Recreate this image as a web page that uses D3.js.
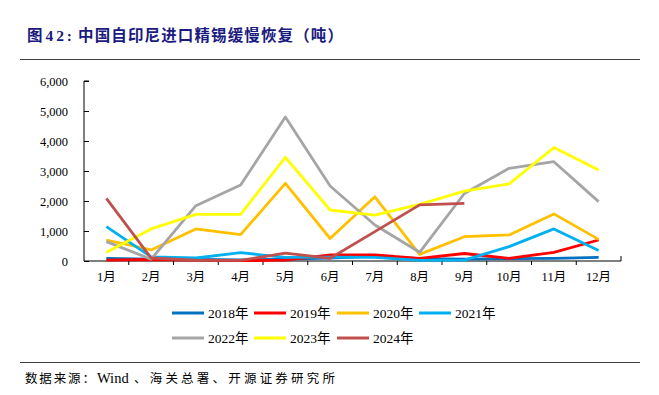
<!DOCTYPE html>
<html><head><meta charset="utf-8">
<script src="https://cdn.jsdelivr.net/npm/d3@7"></script>
<style>body{margin:0;background:#fff}</style>
</head><body>
<svg id="c" width="659" height="395"></svg>
<script>
const months = ["1月","2月","3月","4月","5月","6月","7月","8月","9月","10月","11月","12月"];
const yTicks = [0,1000,2000,3000,4000,5000,6000];
const seriesNames = ["2018年","2019年","2020年","2021年","2022年","2023年","2024年"];
const seriesColors = ["#0070C0","#FF0000","#FFC000","#00B0F0","#A5A5A5","#FFFF00","#C0504D"];
const v2018 = [90,60,50,40,60,100,160,80,60,80,90,120];
const v2019 = [30,50,30,10,30,200,200,90,250,90,290,700];
const v2020 = [700,370,1070,880,2590,750,2140,220,810,870,1570,720];
const v2021 = [1145,140,100,280,120,130,120,20,30,480,1070,350];
const v2022 = [645,60,1845,2530,4800,2500,1200,290,2250,3090,3310,1980];
const v2023 = [290,1070,1555,1555,3455,1700,1530,1890,2330,2570,3780,3030];
const v2024 = [2090,100,30,20,260,90,980,1870,1920];
const seriesValues = [v2018,v2019,v2020,v2021,v2022,v2023,v2024];

const svg = d3.select("#c");
const serif = "'Liberation Serif','Times New Roman','Noto Sans CJK SC',serif";

// title
svg.append("text").attr("x",27).attr("y",41).attr("fill","#1a1a80")
  .attr("font-family",serif).attr("font-size",15.5).attr("font-weight","bold")
  .attr("textLength",45).attr("lengthAdjust","spacing").text("图42:");
svg.append("text").attr("x",78).attr("y",41).attr("fill","#1a1a80")
  .attr("font-family",serif).attr("font-size",15.5).attr("font-weight","bold")
  .attr("textLength",265).attr("lengthAdjust","spacing").text("中国自印尼进口精锡缓慢恢复（吨）");
svg.append("line").attr("x1",20).attr("x2",640).attr("y1",59.5).attr("y2",59.5)
  .attr("stroke","#404040").attr("stroke-width",1.2);

const x = d3.scaleBand().domain(months).range([84,621]).padding(0);
const y = d3.scaleLinear().domain([0,6000]).range([261,81]);

// y axis
const ya = svg.append("g").attr("transform","translate(84,0)")
  .call(d3.axisLeft(y).tickValues(yTicks).tickSize(-5).tickPadding(16).tickFormat(d3.format(",")));
ya.select(".domain").attr("stroke","#000").attr("d","M5,81H0V261");
ya.selectAll("line").attr("stroke","#000");
ya.selectAll("text").attr("font-family",serif).attr("font-size",12.5).attr("fill","#000");

// x axis
const xa = svg.append("g").attr("transform","translate(0,261)");
xa.append("line").attr("x1",84).attr("x2",621).attr("stroke","#000");
xa.selectAll("line.t").data(d3.range(1,13)).enter().append("line")
  .attr("x1",i=>84+i*x.bandwidth()).attr("x2",i=>84+i*x.bandwidth())
  .attr("y1",i=>i===12?-5:0).attr("y2",i=>i===12?0:4).attr("stroke","#000");
xa.selectAll("text").data(months).enter().append("text")
  .attr("x",d=>x(d)+x.bandwidth()/2).attr("y",20).attr("text-anchor","middle")
  .attr("font-family",serif).attr("font-size",12.5).attr("fill","#000").text(d=>d);

// lines
const line = d3.line().x((d,i)=>x(months[i])+x.bandwidth()/2).y(d=>y(d));
seriesValues.forEach((vals,k)=>{
  svg.append("path").datum(vals).attr("d",line).attr("fill","none")
    .attr("stroke",seriesColors[k]).attr("stroke-width",2.8).attr("stroke-linejoin","round");
});

// legend
const legPos = [[172,313],[254,313],[337,313],[419,313],[172,338],[254,338],[337,338]];
seriesNames.forEach((n,k)=>{
  const [lx,ly]=legPos[k];
  svg.append("line").attr("x1",lx).attr("x2",lx+32).attr("y1",ly).attr("y2",ly)
    .attr("stroke",seriesColors[k]).attr("stroke-width",3);
  svg.append("text").attr("x",lx+36).attr("y",ly+5).attr("font-family",serif)
    .attr("font-size",13.5).attr("fill","#000").text(n);
});

// footer
svg.append("line").attr("x1",20).attr("x2",640).attr("y1",362.5).attr("y2",362.5)
  .attr("stroke","#404040").attr("stroke-width",1.2);
const ft = svg.append("text").attr("y",383).attr("font-family",serif)
  .attr("font-size",12.5).attr("fill","#000");
ft.append("tspan").attr("x",25).attr("textLength",70).attr("lengthAdjust","spacing").text("数据来源：");
ft.append("tspan").attr("x",97).attr("font-size",14.5).text("Wind");
ft.append("tspan").attr("x",134).attr("textLength",201).attr("lengthAdjust","spacing").text("、海关总署、开源证券研究所");
</script>
</body></html>
